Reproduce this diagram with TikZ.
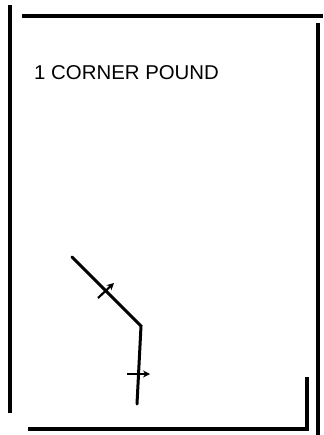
\documentclass[tikz,border=0pt]{standalone}
\usepackage{fontspec}
\setmainfont{Liberation Sans}
\usetikzlibrary{arrows.meta}

\begin{document}
\begin{tikzpicture}[
  x=1pt, y=-1pt,
  frame/.style={line width=3.2pt},
  route/.style={line width=3pt, line cap=round},
  tick/.style={line width=2.2pt, -{Stealth[length=7pt, width=7pt]}},
  label/.style={anchor=base west, inner sep=0pt, xscale=1.02,
                font=\fontsize{20}{24}\selectfont},
]
  \useasboundingbox (0,0) rectangle (323,435);

  % sheet edges
  \draw[frame] (10,5)    -- (10,413);
  \draw[frame] (22,16)   -- (323,16);
  \draw[frame] (318,23)  -- (318,435);
  \draw[frame] (307,377) -- (307,430);
  \draw[frame] (28,429)  -- (309,429);

  \node[label] (title) at (34,80) {1 CORNER POUND};

  % corner route
  \coordinate (start)  at (72,257);
  \coordinate (corner) at (141,326);
  \coordinate (finish) at (137,404);
  \draw[route] (start) -- (corner) -- (finish);

  \coordinate (a1) at (98,298);
  \coordinate (b1) at (114,283);
  \coordinate (a2) at (127,374);
  \coordinate (b2) at (150,374);
  \draw[tick] (a1) -- (b1);
  \draw[tick] (a2) -- (b2);
\end{tikzpicture}
\end{document}
